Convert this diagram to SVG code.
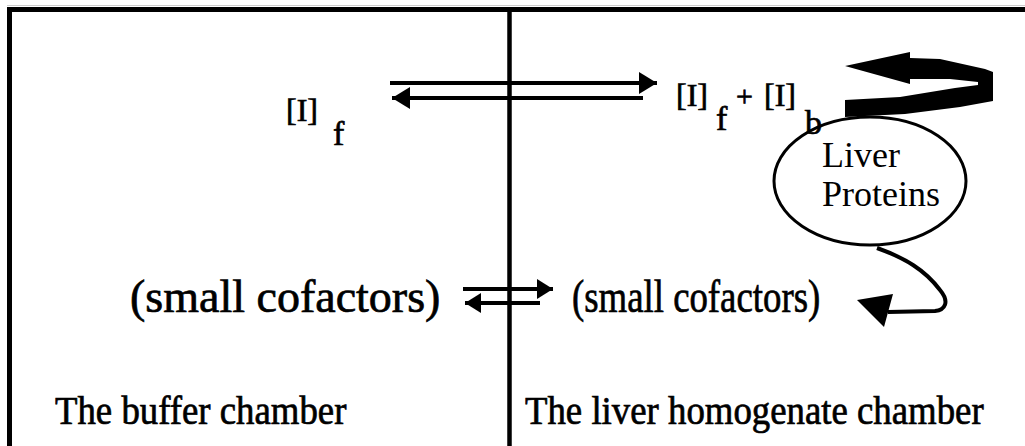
<svg xmlns="http://www.w3.org/2000/svg" width="1025" height="446" viewBox="0 0 1025 446">
<style>
.t{font-family:"Liberation Serif","Times New Roman",serif;fill:#000}
.h{stroke:#000;stroke-width:0.7}
.ln{stroke:#000;fill:none}
</style>
<defs>
<marker id="ah" markerUnits="userSpaceOnUse" markerWidth="20" markerHeight="24" refX="18" refY="11" orient="auto">
<path d="M0,0 L18,11 L0,22 z" fill="#000"/>
</marker>
<marker id="ahs" markerUnits="userSpaceOnUse" markerWidth="18" markerHeight="22" refX="16" refY="10" orient="auto">
<path d="M0,0 L16,10 L0,20 z" fill="#000"/>
</marker>
</defs>
<rect width="1025" height="446" fill="#fff"/>
<g id="frame">
<line x1="7" y1="5.5" x2="1025" y2="5.5" stroke="#ccc" stroke-width="1"/>
<line x1="7" y1="9.5" x2="1025" y2="9.5" class="ln" stroke-width="5"/>
<line x1="9.5" y1="7" x2="9.5" y2="446" class="ln" stroke-width="5"/>
<line x1="509.5" y1="7" x2="509.5" y2="446" class="ln" stroke-width="4.5"/>
</g>
<g id="connectors">
<line x1="390" y1="83" x2="657" y2="83" class="ln" stroke-width="4" marker-end="url(#ah)"/>
<line x1="643" y1="98" x2="392" y2="98" class="ln" stroke-width="4" marker-end="url(#ah)"/>
<line x1="463" y1="289" x2="553" y2="289" class="ln" stroke-width="4" marker-end="url(#ahs)"/>
<line x1="540" y1="303" x2="465" y2="303" class="ln" stroke-width="4" marker-end="url(#ahs)"/>
<path d="M845,100 L900,97 L955,88 L978,85 L978,82 L950,79 L910,79 L910,84 L845,66 L910,52 L910,58 L940,59 L985,69 L993,72 L993,101 L960,107 L905,114 L845,117 Z" fill="#000"/>
<path d="M877,248 C905,258 925,270 940,290 C950,302 945,310 935,311 L888,312" class="ln" stroke-width="4"/>
<path d="M857,300 L893,294 L884,327 Z" fill="#000"/>
</g>
<g id="node-liver-proteins">
<ellipse cx="870" cy="181" rx="96" ry="64" fill="#fff" stroke="#000" stroke-width="3"/>
<text class="t" x="822" y="167" font-size="36">Liver</text>
<text class="t" x="822" y="206" font-size="36">Proteins</text>
</g>
<g id="node-if-left">
<text class="t h" x="286" y="121" font-size="32">[I]</text>
<text class="t h" x="333" y="145" font-size="34">f</text>
</g>
<g id="node-if-right">
<text class="t h" x="676" y="106" font-size="32">[I]</text>
<text class="t h" x="716" y="130" font-size="34">f</text>
<text class="t h" x="736" y="106" font-size="30">+</text>
<text class="t h" x="764" y="106" font-size="32">[I]</text>
<text class="t h" x="805" y="134" font-size="34">b</text>
</g>
<g id="node-cofactors-left">
<text class="t h" x="130" y="312" font-size="46">(small cofactors)</text>
</g>
<g id="node-cofactors-right">
<text class="t h" transform="translate(572,312) scale(0.8,1)" font-size="46">(small cofactors)</text>
</g>
<g id="labels">
<text class="t h" transform="translate(55,424) scale(0.92,1)" font-size="40">The buffer chamber</text>
<text class="t h" transform="translate(525,424) scale(0.92,1)" font-size="40">The liver homogenate chamber</text>
</g>
</svg>
